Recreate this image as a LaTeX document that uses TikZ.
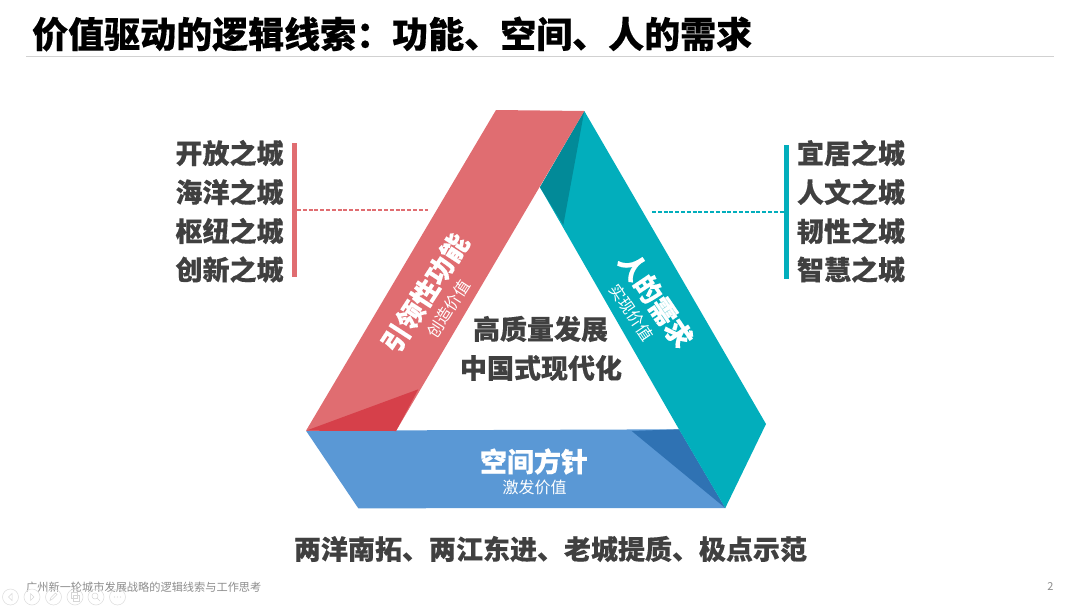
\documentclass[tikz,border=0pt]{standalone}
\usepackage{fontspec}
\setmainfont{Noto Sans CJK SC}[BoldFeatures={FakeBold=0.3}]
\definecolor{redband}{HTML}{E06D71}
\definecolor{reddark}{HTML}{D6404A}
\definecolor{tealband}{HTML}{02AEBC}
\definecolor{tealdark}{HTML}{028A98}
\definecolor{blueband}{HTML}{5A98D5}
\definecolor{bluedark}{HTML}{2F72B3}
\definecolor{txt}{HTML}{404040}
\tikzset{
  lbl/.style={inner sep=0pt,text=txt,font=\fontsize{27}{27}\selectfont\bfseries},
  onband/.style={inner sep=0pt,text=white,font=\fontsize{27}{27}\selectfont\bfseries},
  subband/.style={inner sep=0pt,text=white,font=\fontsize{16}{16}\selectfont},
  navbtn/.style={circle,draw=black!12,line width=0.6pt,minimum size=16pt,inner sep=0pt},
  navicon/.style={draw=black!16,line width=0.5pt},
  dashline/.style={line width=1.1pt,dash pattern=on 4pt off 1.8pt}
}
\begin{document}
\begin{tikzpicture}[x=1pt,y=-1pt]
\useasboundingbox (0,0) rectangle (1080,608);
\node[inner sep=0pt,anchor=west,text=black,font=\fontsize{36}{36}\selectfont\bfseries] (title) at (32,34) {价值驱动的逻辑线索：功能、空间、人的需求};
\coordinate (ruleL) at (26,56.5); \coordinate (ruleR) at (1054,56.5);
\draw[black!18,line width=0.7pt] (ruleL) -- (ruleR);
% bands
\fill[blueband] (306,430.7) -- (679,429.3) -- (725.3,508) -- (358.3,508.3) -- cycle;
\fill[bluedark] (631.7,431) -- (679,429.3) -- (725.3,508) -- cycle;
\fill[tealband] (584.3,111) -- (766,424) -- (725.3,508) -- (679,429.3) -- (540,187.3) -- cycle;
\fill[tealdark] (584.3,111) -- (540,187.3) -- (563.3,225) -- cycle;
\fill[redband] (496,110) -- (584.3,111) -- (396,431) -- (306,430.7) -- cycle;
\fill[reddark] (306,430.7) -- (418.3,389.3) -- (396,431) -- cycle;
% left list
\node[lbl] (l1) at (229.5,153) {开放之城};
\node[lbl] (l2) at (229.5,192) {海洋之城};
\node[lbl] (l3) at (229.5,231) {枢纽之城};
\node[lbl] (l4) at (229.5,269.5) {创新之城};
\fill[redband] (292,143) rectangle (297,277);
\coordinate (ldA) at (297,210); \coordinate (ldB) at (428,210);
\draw[redband,dashline] (ldA) -- (ldB);
% right list
\node[lbl] (r1) at (851,153) {宜居之城};
\node[lbl] (r2) at (851,192) {人文之城};
\node[lbl] (r3) at (851,231) {韧性之城};
\node[lbl] (r4) at (851,269.5) {智慧之城};
\fill[tealband] (784,145) rectangle (789,279);
\coordinate (rdA) at (652,212); \coordinate (rdB) at (784,212);
\draw[tealband,dashline] (rdA) -- (rdB);
% centre
\node[lbl] (c1) at (540.5,329) {高质量发展};
\node[lbl] (c2) at (541,368) {中国式现代化};
% band labels
\node[onband,rotate=57] (b1) at (425,293) {引领性功能};
\node[subband,rotate=57] (b1s) at (448.5,309) {创造价值};
\node[onband,rotate=-56] (b2) at (656,300) {人的需求};
\node[subband,rotate=-56] (b2s) at (631.5,312.5) {实现价值};
\node[onband] (b3) at (534,461.5) {空间方针};
\node[subband] (b3s) at (534.5,487) {激发价值};
\node[lbl] (bottom) at (550.5,549) {两洋南拓、两江东进、老城提质、极点示范};
% footer
\node[inner sep=0pt,anchor=west,text=black!45,font=\fontsize{11.2}{11.2}\selectfont] (foot) at (26,587) {广州新一轮城市发展战略的逻辑线索与工作思考};
\node[inner sep=0pt,text=black!45,font=\fontsize{11}{11}\selectfont] (pg) at (1050.5,587) {2};
% slide-show controls
\node[navbtn] (n1) at (10.5,597) {};
\node[navbtn] (n2) at (32,597) {};
\node[navbtn] (n3) at (53.5,597) {};
\node[navbtn] (n4) at (75,597) {};
\node[navbtn] (n5) at (96,597) {};
\node[navbtn] (n6) at (117.5,597) {};
\draw[navicon] (12,593.5) -- (8.5,597) -- (12,600.5) -- cycle;
\draw[navicon] (30.5,593.5) -- (34,597) -- (30.5,600.5) -- cycle;
\draw[navicon] (50,600.5) -- (51,597.5) -- (55.5,593) -- (57,594.5) -- (52.5,599) -- cycle;
\draw[navicon] (71.5,592.5) rectangle (77,598);
\draw[navicon] (73.5,595) rectangle (79,601);
\draw[navicon] (95,596) circle (3);
\draw[navicon] (97,598) -- (100,601);
\fill[black!16] (114.5,597) circle (.6) (117.5,597) circle (.6) (120.5,597) circle (.6);
\end{tikzpicture}
\end{document}
